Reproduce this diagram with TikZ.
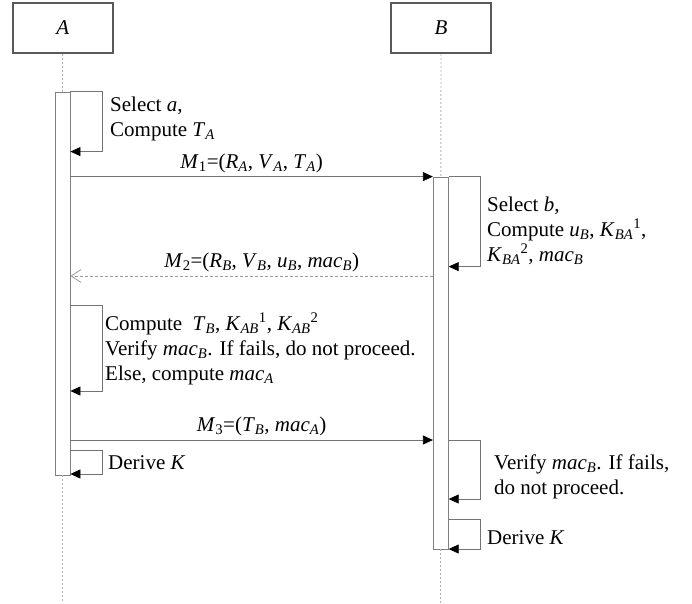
\documentclass[tikz,border=0pt]{standalone}
\usepackage{fontspec}
\setmainfont{Liberation Serif}
\usetikzlibrary{arrows.meta}
\newcommand{\idx}[2]{\textit{#1}\textsubscript{\textit{#2}}}

\begin{document}
\begin{tikzpicture}[x=1pt,y=-1pt,
  font=\fontsize{21}{25}\selectfont,
  actor/.style={draw=black!65,line width=1.6pt,fill=white,minimum width=100pt,minimum height=50pt},
  life/.style={draw=black!30,dash pattern=on 2pt off 2pt,line width=0.9pt},
  act/.style={draw=black!50,line width=0.8pt,fill=white,minimum width=15pt},
  msg/.style={draw=black!55,line width=0.8pt,-{Triangle[length=10pt,width=9pt,color=black]}},
  reply/.style={draw=black!40,line width=0.8pt,dash pattern=on 3pt off 2pt,-{Straight Barb[length=10pt,width=13pt,color=black!40]}},
  selfcall/.style={draw=black!55,line width=0.8pt,-{Triangle[length=10pt,width=9pt,color=black]}},
  txt/.style={anchor=base west,align=left,inner sep=0pt}]
\useasboundingbox (0,0) rectangle (692,603);

\node[actor] (A) at (62.7,28) {\textit{A}};
\node[actor] (B) at (441,28) {\textit{B}};
\coordinate (bottom) at (0,603);

\node[act,minimum height=383pt] (actA) at (62.5,283.5) {};
\node[act,minimum height=372pt] (actB) at (440.8,363) {};

\draw[life] (A.south) -- (actA.north);
\draw[life] (B.south) -- (actB.north);
\draw[life] (actA.south) -- (actA.south |- bottom);
\draw[life] (actB.south) -- (actB.south |- bottom);

\draw[selfcall] (actA.north east) -- ++(32,0) -- ++(0,60) -- ++(-32,0);
\node[txt] (selA) at (110,136) {Select \textit{a},\\Compute \idx{T}{A}};

\draw[msg] (actA.east |- actB.north) -- (actB.north west)
  node[midway,above] (m1) {\textit{M}\textsubscript{1}=(\idx{R}{A}, \idx{V}{A}, \idx{T}{A})};

\draw[selfcall] (actB.north east) -- ++(32,0) -- ++(0,90) -- ++(-32,0);
\node[txt] (selB) at (487,261) {Select \textit{b},\\Compute \idx{u}{B}, \idx{K}{BA}\textsuperscript{1},\\\idx{K}{BA}\textsuperscript{2}, \idx{mac}{B}};

\coordinate (m2y) at (0,276);
\draw[reply] (actB.west |- m2y) -- (actA.east |- m2y)
  node[midway,above,xshift=10pt] (m2) {\textit{M}\textsubscript{2}=(\idx{R}{B}, \idx{V}{B}, \idx{u}{B}, \idx{mac}{B})};

\coordinate (a2y) at (0,305);
\draw[selfcall] (actA.east |- a2y) -- ++(32,0) -- ++(0,86) -- ++(-32,0);
\node[txt] (verA) at (105,380) {Compute~ \idx{T}{B}, \idx{K}{AB}\textsuperscript{1}, \idx{K}{AB}\textsuperscript{2}\\Verify \idx{mac}{B}. If fails, do not proceed.\\Else, compute \idx{mac}{A}};

\coordinate (m3y) at (0,440);
\draw[msg] (actA.east |- m3y) -- (actB.west |- m3y)
  node[midway,above,xshift=10pt] (m3) {\textit{M}\textsubscript{3}=(\idx{T}{B}, \idx{mac}{A})};

\coordinate (a3y) at (0,450);
\draw[selfcall] (actA.east |- a3y) -- ++(32,0) -- ++(0,24) -- ++(-32,0);
\node[txt] (derA) at (108,469) {Derive \textit{K}};

\draw[selfcall] (actB.east |- m3y) -- ++(32,0) -- ++(0,59) -- ++(-32,0);
\node[txt] (verB) at (494,494) {Verify \idx{mac}{B}. If fails,\\do not proceed.};

\coordinate (b3y) at (0,519);
\draw[selfcall] (actB.east |- b3y) -- ++(32,0) -- ++(0,30) -- ++(-32,0);
\node[txt] (derB) at (487,544) {Derive \textit{K}};
\end{tikzpicture}
\end{document}
